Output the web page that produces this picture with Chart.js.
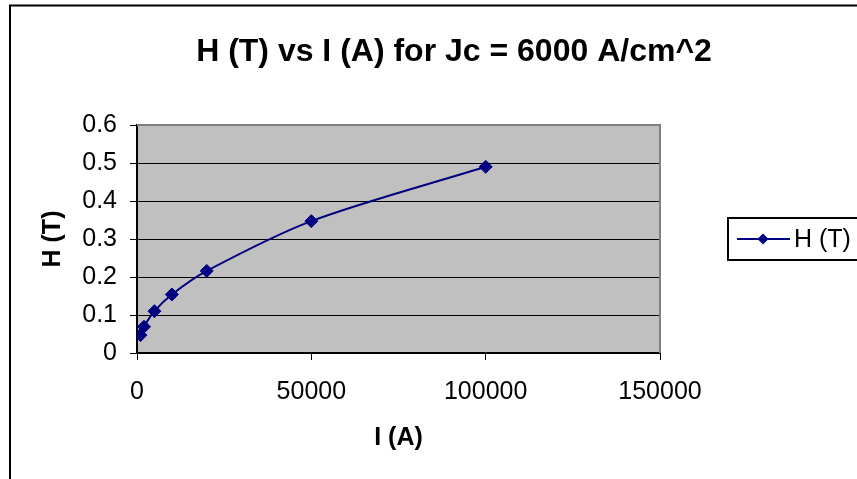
<!DOCTYPE html>
<html>
<head>
<meta charset="utf-8">
<script src="https://cdn.jsdelivr.net/npm/chart.js@4.4.1/dist/chart.umd.min.js"></script>
<style>
  html, body { margin: 0; padding: 0; background: #ffffff; }
  #wrap { position: relative; width: 857px; height: 479px; overflow: hidden; }
  canvas { display: block; }
</style>
</head>
<body>
<div id="wrap"><canvas id="c" width="857" height="479"></canvas></div>
<script>
const chartTitle = 'H (T) vs I (A) for Jc = 6000 A/cm^2';
const seriesName = 'H (T)';
const xTitle = 'I (A)';
const yTitle = 'H (T)';
const currents = [1000, 2000, 5000, 10000, 20000, 50000, 100000];
const fieldT = [0.047, 0.069, 0.11, 0.154, 0.216, 0.347, 0.49];
const xTickLabels = ['0', '50000', '100000', '150000'];
const yTickLabels = ['0', '0.1', '0.2', '0.3', '0.4', '0.5', '0.6'];

const FONT = '"Liberation Sans", Arial, sans-serif';
const NAVY = '#000080';

const points = currents.map((x, i) => ({ x: x, y: fieldT[i] }));

const decor = {
  id: 'decor',
  beforeDraw(chart) {
    const { ctx, chartArea: a } = chart;
    ctx.save();
    ctx.fillStyle = '#ffffff';
    ctx.fillRect(0, 0, chart.width, chart.height);
    ctx.fillStyle = '#c0c0c0';
    ctx.fillRect(a.left, a.top, a.right - a.left, a.bottom - a.top);
    ctx.restore();
  },
  beforeDatasetsDraw(chart) {
    const { ctx, chartArea: a } = chart;
    ctx.save();
    ctx.strokeStyle = '#808080';
    ctx.lineWidth = 2;
    ctx.beginPath();
    ctx.moveTo(a.left, a.top);
    ctx.lineTo(a.right, a.top);
    ctx.lineTo(a.right, a.bottom);
    ctx.stroke();
    ctx.restore();
  },
  afterDraw(chart) {
    const { ctx } = chart;
    ctx.save();
    // outer frame
    ctx.strokeStyle = '#000000';
    ctx.lineWidth = 2;
    ctx.strokeRect(10, 5.5, 940, 520);
    // title
    ctx.fillStyle = '#000000';
    ctx.font = 'bold 32px ' + FONT;
    ctx.textAlign = 'center';
    ctx.textBaseline = 'alphabetic';
    ctx.fillText(chartTitle, 454, 61);
    // legend
    ctx.textAlign = 'left';
    ctx.strokeRect(728, 218, 160, 42);
    const ly = 239;
    ctx.strokeStyle = NAVY;
    ctx.lineWidth = 2;
    ctx.beginPath();
    ctx.moveTo(737, ly);
    ctx.lineTo(790, ly);
    ctx.stroke();
    ctx.fillStyle = NAVY;
    ctx.beginPath();
    ctx.moveTo(763, ly - 5.5);
    ctx.lineTo(768.5, ly);
    ctx.lineTo(763, ly + 5.5);
    ctx.lineTo(757.5, ly);
    ctx.closePath();
    ctx.fill();
    ctx.fillStyle = '#000000';
    ctx.font = '25px ' + FONT;
    ctx.textBaseline = 'middle';
    ctx.fillText(seriesName, 794, ly + 1);
    ctx.restore();
  }
};

new Chart(document.getElementById('c'), {
  type: 'line',
  data: {
    datasets: [{
      label: seriesName,
      data: points,
      borderColor: NAVY,
      backgroundColor: NAVY,
      borderWidth: 2,
      tension: 0.3,
      pointStyle: 'rectRot',
      pointRadius: 6.5,
      pointBorderWidth: 1,
      pointBackgroundColor: NAVY,
      pointBorderColor: NAVY,
      fill: false
    }]
  },
  options: {
    responsive: false,
    animation: false,
    devicePixelRatio: 1,
    layout: { padding: { left: 0, top: 125, right: 197, bottom: 0 } },
    plugins: {
      legend: { display: false },
      title: { display: false },
      tooltip: { enabled: false }
    },
    scales: {
      x: {
        type: 'linear',
        min: 0,
        max: 150000,
        afterFit(scale) { scale.height = 126; },
        ticks: {
          stepSize: 50000,
          color: '#000000',
          font: { family: FONT, size: 25 },
          padding: 17,
          maxRotation: 0,
          callback: (v) => xTickLabels[Math.round(v / 50000)]
        },
        grid: { drawOnChartArea: false, tickLength: 7, tickColor: '#000000', tickWidth: 1 },
        border: { color: '#000000', width: 2 },
        title: {
          display: true,
          text: xTitle,
          color: '#000000',
          font: { family: FONT, size: 25, weight: 'bold' },
          padding: { top: 0, bottom: 26 }
        }
      },
      y: {
        type: 'linear',
        min: 0,
        max: 0.6,
        afterFit(scale) { scale.width = 137; },
        ticks: {
          stepSize: 0.1,
          color: '#000000',
          font: { family: FONT, size: 25 },
          padding: 13,
          callback: (v) => yTickLabels[Math.round(v * 10)]
        },
        grid: { color: '#000000', lineWidth: 1, tickLength: 7, tickColor: '#000000' },
        border: { color: '#000000', width: 2 },
        title: {
          display: true,
          text: yTitle,
          color: '#000000',
          font: { family: FONT, size: 25, weight: 'bold' },
          padding: { top: 38, bottom: 0 }
        }
      }
    }
  },
  plugins: [decor]
});
</script>
</body>
</html>
